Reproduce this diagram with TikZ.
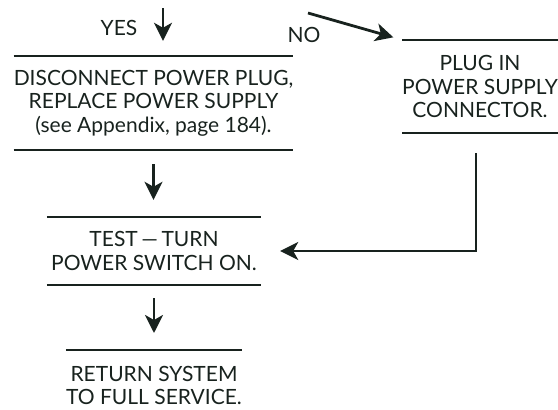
\documentclass[tikz,border=0pt]{standalone}
\usepackage{fontspec}
\setmainfont{Lato}
\usetikzlibrary{arrows.meta,calc}
\definecolor{ink}{RGB}{24,34,30}

\begin{document}
\begin{tikzpicture}[x=1pt,y=-1pt,
  every node/.style={font=\fontsize{21}{23.5}\selectfont,text=ink,inner sep=0pt,align=center},
  rule/.style={draw=ink,line width=1.5pt},
  ruled/.style={append after command={(\tikzlastnode.north west) edge[rule] (\tikzlastnode.north east)
      (\tikzlastnode.south west) edge[rule] (\tikzlastnode.south east)}},
  topruled/.style={append after command={(\tikzlastnode.north west) edge[rule] (\tikzlastnode.north east)}},
  flow/.style={draw=ink,line width=2.8pt,-{Stealth[length=18pt,width=18pt,inset=5pt]}}]
\useasboundingbox (0,0) rectangle (558,410);

\node (yes) at (119,28) {YES};
\node (no) at (304,35) {NO};

\node[ruled,minimum width=277pt,minimum height=94pt] (replace) at (153.5,103)
  {DISCONNECT POWER PLUG,\\REPLACE POWER SUPPLY\\(see Appendix, page 184).};
\node[ruled,minimum width=150pt,minimum height=93pt] (plug) at (480,86.5)
  {PLUG IN\\POWER SUPPLY\\CONNECTOR.};
\node[ruled,minimum width=214pt,minimum height=68pt] (test) at (154,251)
  {TEST\,---\,TURN\\POWER SWITCH ON.};
\node[topruled,minimum width=172pt,minimum height=71pt,anchor=north] (return) at (154,350)
  {RETURN SYSTEM\\TO FULL SERVICE.};

\coordinate (yestail) at (163,8);
\draw[flow,shorten >=15pt] (yestail) -- (yestail |- replace.north);
\coordinate (notail) at (308,13);
\draw[flow,shorten >=9pt] (notail) -- (plug.north west);

\draw[flow,shorten <=14pt,shorten >=17pt] (replace.south) -- (replace.south |- test.north);
\draw[flow,shorten <=13pt,shorten >=17pt] (test.south) -- (return.north);
\draw[flow,shorten >=19pt] ([xshift=-4pt,yshift=-20pt]plug.south) |- (test.east);

\end{tikzpicture}
\end{document}
